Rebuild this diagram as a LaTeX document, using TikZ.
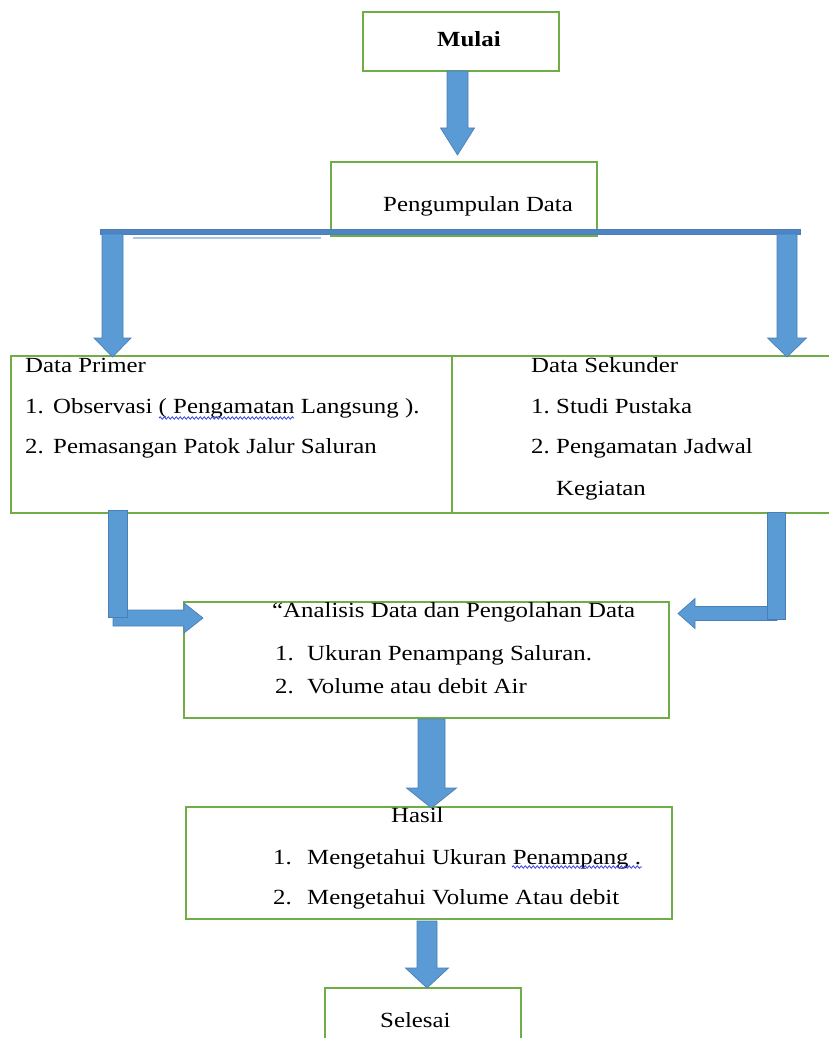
\documentclass[tikz,border=0pt]{standalone}
\usepackage{fontspec}
\setmainfont{Liberation Serif}[FakeStretch=1.15]
\usetikzlibrary{calc,decorations.pathmorphing}
\definecolor{boxgreen}{HTML}{70AD47}
\definecolor{arrowblue}{HTML}{5B9BD5}
\definecolor{arrowedge}{HTML}{4A7EB5}
\definecolor{barblue}{HTML}{4F84C4}
\definecolor{faintblue}{HTML}{A9C8E8}
\definecolor{spellblue}{HTML}{3344DD}
\newcommand{\mydownarrow}[5]{\draw[blk] let \p1=(#1), \p2=(#2) in (\x1-#3pt,\y1) -- (\x1-#3pt,\y2+#5pt) -- (\x1-#4pt,\y2+#5pt) -- (\x1,\y2) -- (\x1+#4pt,\y2+#5pt) -- (\x1+#3pt,\y2+#5pt) -- (\x1+#3pt,\y1) -- cycle;}
\newcommand{\myrightarrow}[5]{\draw[blk] let \p1=(#1), \p2=(#2) in (\x1,\y2+#3pt) -- (\x2-#5pt,\y2+#3pt) -- (\x2-#5pt,\y2+#4pt) -- (\x2,\y2) -- (\x2-#5pt,\y2-#4pt) -- (\x2-#5pt,\y2-#3pt) -- (\x1,\y2-#3pt) -- cycle;}
\newcommand{\myleftarrow}[5]{\draw[blk] let \p1=(#1), \p2=(#2) in (\x1,\y2+#3pt) -- (\x2+#5pt,\y2+#3pt) -- (\x2+#5pt,\y2+#4pt) -- (\x2,\y2) -- (\x2+#5pt,\y2-#4pt) -- (\x2+#5pt,\y2-#3pt) -- (\x1,\y2-#3pt) -- cycle;}
\tikzset{
  box/.style={draw=boxgreen, line width=1.5pt, rectangle, inner sep=0pt},
  blk/.style={fill=arrowblue, draw=arrowedge, line width=0.7pt, line join=miter},
  txt/.style={anchor=base west, inner sep=0pt, font=\fontsize{21.6pt}{26pt}\selectfont},
  spell/.style={draw=spellblue, line width=0.8pt, decorate, decoration={snake, segment length=4pt, amplitude=1.2pt}}
}
\begin{document}
\begin{tikzpicture}[x=1pt,y=-1pt]
\useasboundingbox (0,0) rectangle (829,1038);
\clip (0,0) rectangle (829,1038);
% boxes
\node[box, minimum width=196pt, minimum height=59pt] (mulai) at (461,41.5) {};
\node[box, minimum width=266pt, minimum height=74pt] (peng) at (464,199) {};
\node[box, minimum width=441pt, minimum height=157pt] (primer) at (231.5,434.5) {};
\node[box, minimum width=388pt, minimum height=157pt] (sekunder) at (646,434.5) {};
\node[box, minimum width=485pt, minimum height=116pt] (analisis) at (426.5,660) {};
\node[box, minimum width=486pt, minimum height=112pt] (hasil) at (429,863) {};
\node[box, minimum width=196pt, minimum height=62pt] (selesai) at (423,1019) {};
% connector coordinates
\coordinate (a1s) at (457.5,71);
\coordinate (a1t) at (457.5,155);
\coordinate (barL) at (100,229.5);
\coordinate (barR) at (800,234);
\coordinate (fL) at (133,238);
\coordinate (fR) at (321,238);
\coordinate (a2s) at (112.5,234);
\coordinate (a2t) at (112.5,357);
\coordinate (a3s) at (787,234);
\coordinate (a3t) at (787,357);
\coordinate (a4s) at (113,618);
\coordinate (a4t) at (203,618);
\coordinate (v4a) at (108,510);
\coordinate (v4b) at (127,617);
\coordinate (a5s) at (777,613.5);
\coordinate (a5t) at (678,613.5);
\coordinate (v5a) at (767,512);
\coordinate (v5b) at (785,619);
\coordinate (a6s) at (431.5,719);
\coordinate (a6t) at (431.5,808);
\coordinate (a7s) at (427,921);
\coordinate (a7t) at (427,988);
% arrows
\mydownarrow{a1s}{a1t}{10.5}{17}{27}
\draw[fill=barblue, draw=arrowedge, line width=0.5pt] (barL) rectangle (barR);
\draw[faintblue, line width=1.5pt] (fL) -- (fR);
\mydownarrow{a2s}{a2t}{10.5}{18.5}{19}
\mydownarrow{a3s}{a3t}{10}{19.5}{19}
\myrightarrow{a4s}{a4t}{8}{15}{19}
\draw[blk] (v4a) rectangle (v4b);
\myleftarrow{a5s}{a5t}{7}{15}{17}
\draw[blk] (v5a) rectangle (v5b);
\mydownarrow{a6s}{a6t}{13.5}{25}{20}
\mydownarrow{a7s}{a7t}{10}{21.5}{20}
% texts
\node[txt] (tmulai) at (437,47) {\bfseries Mulai};
\node[txt] (tpeng) at (383,211) {Pengumpulan Data};
\node[txt] (tprim) at (25,372) {Data Primer};
\node[txt] (tprim1) at (25,413) {\makebox[28pt][l]{1.}Observasi ( Pengamatan Langsung ).};
\node[txt] (tprim2) at (25,453) {\makebox[28pt][l]{2.}Pemasangan Patok Jalur Saluran};
\node[txt] (tsek) at (531,372) {Data Sekunder};
\node[txt] (tsek1) at (531,413) {\makebox[25pt][l]{1.}Studi Pustaka};
\node[txt] (tsek2) at (531,453) {\makebox[25pt][l]{2.}Pengamatan Jadwal};
\node[txt] (tsek3) at (556,495) {Kegiatan};
\node[txt] (tana) at (272,617) {``Analisis Data dan Pengolahan Data};
\node[txt] (tana1) at (275,660) {\makebox[32pt][l]{1.}Ukuran Penampang Saluran.};
\node[txt] (tana2) at (275,693) {\makebox[32pt][l]{2.}Volume atau debit Air};
\node[txt] (thas) at (391,822) {Hasil};
\node[txt] (thas1) at (273,864) {\makebox[34pt][l]{1.}Mengetahui Ukuran Penampang .};
\node[txt] (thas2) at (273,904) {\makebox[34pt][l]{2.}Mengetahui Volume Atau debit};
\node[txt] (tsel) at (380,1027) {Selesai};
% spell-check underlines
\draw[spell] (159,418) -- (294,418);
\draw[spell] (512,867) -- (642,867);
\end{tikzpicture}
\end{document}
